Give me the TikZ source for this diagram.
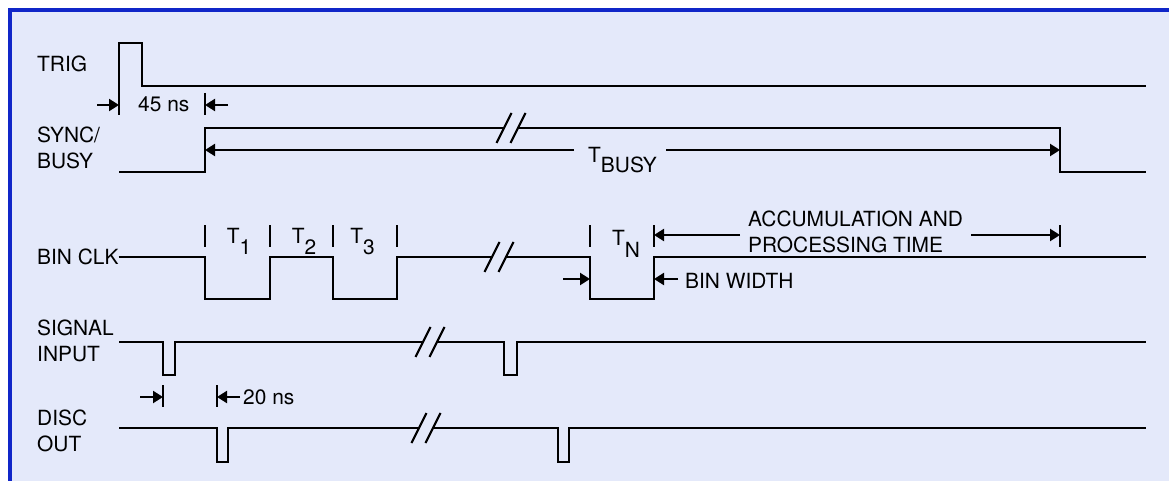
\documentclass[tikz,border=0pt]{standalone}
\usepackage{fontspec}
\setmainfont{TeX Gyre Heros}
\usetikzlibrary{arrows.meta,positioning,calc}
\definecolor{panelbg}{RGB}{228,233,250}
\definecolor{panelblue}{RGB}{16,38,200}

\begin{document}
\begin{tikzpicture}[x=1pt, y=-1pt,
    sig/.style={line width=2.2pt, line join=miter, black},
    tick/.style={line width=2.2pt, black},
    arrow/.style={-{Triangle[length=10pt,width=12pt]}, line width=2.2pt},
    lbl/.style={font=\fontsize{20.9}{26}\selectfont, inner sep=0pt, align=left}
]
\useasboundingbox (0,0) rectangle (1169,481);
\fill[panelbg] (8,8) rectangle (1169,481);
\draw[panelblue, line width=4pt] (10.3,481) -- (10.3,10.3) -- (1169,10.3);

% signal names
\node[lbl, anchor=base west] (trig)   at (37,72)    {TRIG};
\node[lbl, anchor=west]      (sync)   at (37,147.5) {SYNC/\\BUSY};
\node[lbl, anchor=west]      (binclk) at (37,257)   {BIN CLK};
\node[lbl, anchor=west]      (sigin)  at (37,340.5) {SIGNAL\\INPUT};
\node[lbl, anchor=west]      (disc)   at (37,431)   {DISC\\OUT};

% waveforms
\draw[sig] (119,115) -- (119,43) -- (142,43) -- (142,86) -- (1146,86);
\draw[sig] (119,172) -- (205,172) -- (205,128) -- (504,128);
\draw[sig] (518,128) -- (1060,128) -- (1060,172) -- (1146,172);
\draw[sig] (binclk.east) -- (205,257) -- (205,299) -- (270,299) -- (270,257) -- (333,257)
           -- (333,299) -- (397,299) -- (397,257) -- (492,257);
\draw[sig] (506,257) -- (590,257) -- (590,299) -- (654,299) -- (654,257) -- (1146,257);
\draw[sig] (119,342) -- (163,342) -- (163,375) -- (175,375) -- (175,342) -- (423,342);
\draw[sig] (437,342) -- (504,342) -- (504,375) -- (517,375) -- (517,342) -- (1146,342);
\draw[sig] (119,428) -- (217,428) -- (217,462) -- (228,462) -- (228,428) -- (419,428);
\draw[sig] (433,428) -- (558,428) -- (558,462) -- (569,462) -- (569,428) -- (1146,428);

% time breaks
\foreach \bx/\by in {511/128, 499/257, 430/342, 426/428} {
  \draw[sig] (\bx-14.5,\by+15) -- (\bx+0.5,\by-15);
  \draw[sig] (\bx-0.5,\by+15) -- (\bx+14.5,\by-15);
}

% bin markers
\foreach \tx in {205,270,333,397,590,654,1060}
  \draw[tick] (\tx,225) -- (\tx,247);
\node[lbl, anchor=base] (t1) at (239,243)   {T\raisebox{-11pt}{1}};
\node[lbl, anchor=base] (t2) at (304,243)   {T\raisebox{-11pt}{2}};
\node[lbl, anchor=base] (t3) at (362.5,243) {T\raisebox{-11pt}{3}};
\node[lbl, anchor=base] (tN) at (626,245)   {T\raisebox{-12pt}{N}};

% 45 ns
\coordinate (trigE) at (119,105);
\coordinate (syncE) at (205,105);
\node[lbl, anchor=base west] (ns45) at (138,112) {45 ns};
\draw[tick] (205,93) -- (205,115);
\draw[arrow] ($(trigE)+(-22,0)$) -- (trigE);
\draw[arrow] ($(syncE)+(23,0)$) -- (syncE);

% busy time
\coordinate (busyL) at (205,150);
\coordinate (busyR) at (1060,150);
\node[lbl, anchor=base west] (tbusy) at (588,163) {T\raisebox{-10pt}{BUSY}};
\draw[arrow] ($(tbusy.west |- busyL)+(-14,0)$) -- (busyL);
\draw[arrow] ($(tbusy.east |- busyR)+(9,0)$) -- (busyR);

% accumulation and bin width
\coordinate (accL) at (654,235);
\coordinate (accR) at (1060,235);
\node[lbl, anchor=west] (accum) at (748,232) {ACCUMULATION AND\\PROCESSING TIME};
\draw[arrow] ($(accum.west |- accL)+(-8,0)$) -- (accL);
\draw[arrow] ($(accum.east |- accR)+(8,0)$) -- (accR);
\coordinate (bwL) at (590,279);
\coordinate (bwR) at (654,279);
\node[lbl, anchor=base west] (binw) at (685,288) {BIN WIDTH};
\draw[arrow] ($(bwL)+(-27,0)$) -- (bwL);
\draw[arrow] ($(binw.west |- bwR)+(-7,0)$) -- (bwR);

% 20 ns
\coordinate (inE)  at (163,397);
\coordinate (outE) at (217,397);
\draw[tick] (163,385) -- (163,407);
\draw[tick] (217,385) -- (217,407);
\node[lbl, anchor=base west] (ns20) at (243,404) {20 ns};
\draw[arrow] ($(inE)+(-23,0)$) -- (inE);
\draw[arrow] ($(ns20.west |- outE)+(-3,0)$) -- (outE);
\end{tikzpicture}
\end{document}
